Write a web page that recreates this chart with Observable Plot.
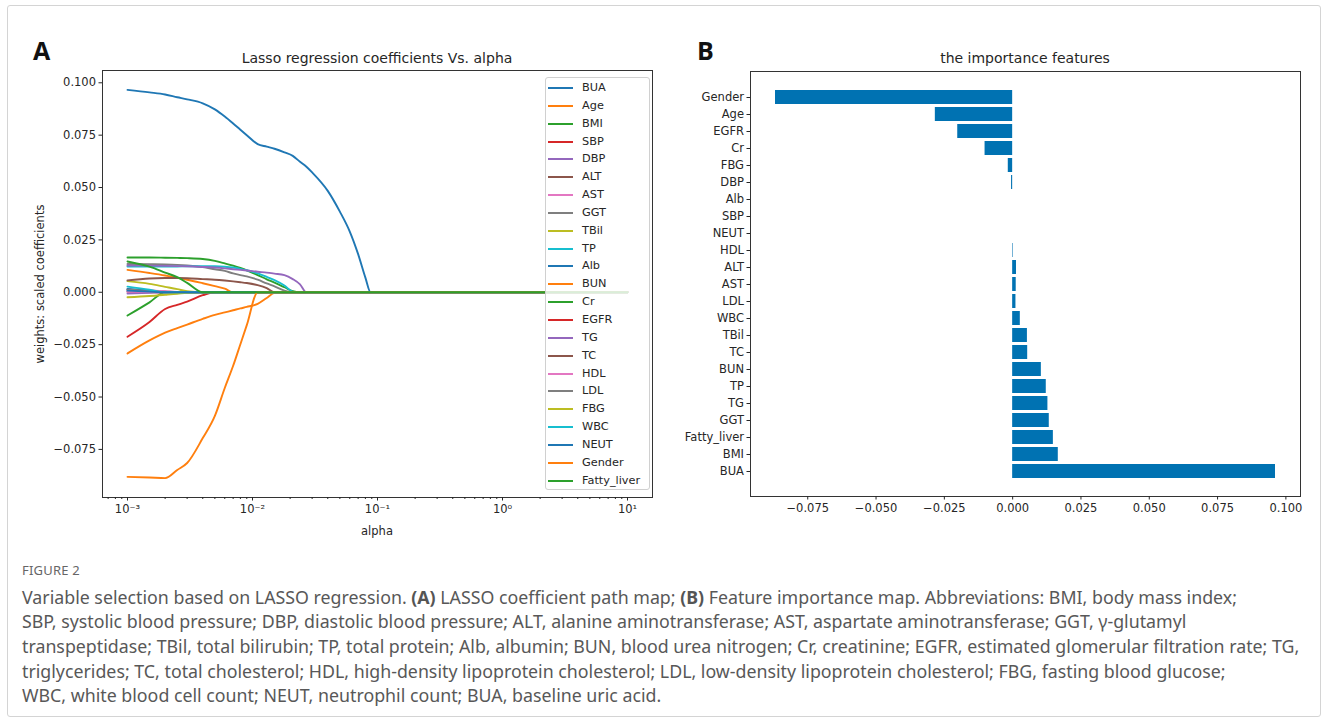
<!DOCTYPE html>
<html>
<head>
<meta charset="utf-8">
<script src="https://cdn.jsdelivr.net/npm/d3@7"></script>
<script src="https://cdn.jsdelivr.net/npm/@observablehq/plot@0.6"></script>
<style>
  body { margin: 0; background: #fff; }
  #page { position: relative; width: 1328px; height: 722px; overflow: hidden; font-family: "DejaVu Sans", sans-serif; color: #262626; }
  #border { position: absolute; left: 7px; top: 5px; width: 1312px; height: 710px; border: 1px solid #d4d4d4; border-radius: 3px; }
  .chart { position: absolute; top: 0; }
  .panel { position: absolute; top: 33px; font-family: "Open Sans", "Liberation Sans", sans-serif; font-weight: 700; font-size: 25px; color: #111; }
  .title { position: absolute; top: 50px; font-size: 14px; transform: translateX(-50%); white-space: nowrap; }
  .axlabel { position: absolute; font-size: 11.5px; white-space: nowrap; }
  #legend { position: absolute; left: 545px; top: 77px; width: 105px; height: 413px; box-sizing: border-box;
            border: 1px solid #d0d0d0; border-radius: 3px; background: rgba(255,255,255,0.82); padding-top: 1px; }
  .entry { position: relative; height: 17.85px; font-size: 11.3px; }
  .entry .sw { position: absolute; left: 2px; top: 8px; width: 25px; height: 2px; }
  .entry .lb { position: absolute; left: 36px; top: 1px; line-height: 15px; white-space: nowrap; }
  #caption { position: absolute; left: 22px; top: 562px; font-family: "Noto Sans", sans-serif; color: #585858; }
  #caption .fig { font-size: 13px; line-height: 16px; letter-spacing: 0.2px; margin-bottom: 6.6px; color: #666; }
  #caption .ln { font-size: 17.8px; line-height: 24.7px; white-space: nowrap; }
  #caption b { font-weight: 700; color: #555; }
</style>
</head>
<body>
<div id="page">
  <div id="border"></div>
  <div class="panel" style="left:33px">A</div>
  <div class="panel" style="left:697px">B</div>
  <div class="title" style="left:377px">Lasso regression coefficients Vs. alpha</div>
  <div class="title" style="left:1025px">the importance features</div>
  <div class="axlabel" style="left:377px; top:524px; transform:translateX(-50%)">alpha</div>
  <div class="axlabel" style="left:40px; top:284px; transform:translate(-50%,-50%) rotate(-90deg)">weights: scaled coefficients</div>
  <div id="legend"></div>
  <div id="caption">
    <div class="fig">FIGURE 2</div>
    <div class="ln">Variable selection based on LASSO regression. <b>(A)</b> LASSO coefficient path map; <b>(B)</b> Feature importance map. Abbreviations: BMI, body mass index;</div>
    <div class="ln">SBP, systolic blood pressure; DBP, diastolic blood pressure; ALT, alanine aminotransferase; AST, aspartate aminotransferase; GGT, γ-glutamyl</div>
    <div class="ln">transpeptidase; TBil, total bilirubin; TP, total protein; Alb, albumin; BUN, blood urea nitrogen; Cr, creatinine; EGFR, estimated glomerular filtration rate; TG,</div>
    <div class="ln">triglycerides; TC, total cholesterol; HDL, high-density lipoprotein cholesterol; LDL, low-density lipoprotein cholesterol; FBG, fasting blood glucose;</div>
    <div class="ln">WBC, white blood cell count; NEUT, neutrophil count; BUA, baseline uric acid.</div>
  </div>
</div>
<script>
// ---- Panel A: lasso coefficient paths (one value per alpha) ----
const alphas = [0.001, 0.0015, 0.002, 0.0025, 0.003, 0.004, 0.005, 0.006, 0.007, 0.008, 0.009, 0.011, 0.013,
                0.015, 0.018, 0.021, 0.024, 0.027, 0.03, 0.04, 0.05, 0.06, 0.07, 0.08, 0.088, 10];

const seriesNames = ["BUA", "Age", "BMI", "SBP", "DBP", "ALT", "AST", "GGT", "TBil", "TP", "Alb", "BUN",
                     "Cr", "EGFR", "TG", "TC", "HDL", "LDL", "FBG", "WBC", "NEUT", "Gender", "Fatty_liver"];

const coefBUA    = [0.0966, 0.0954, 0.0944, 0.0931, 0.0921, 0.0902, 0.0873, 0.0839, 0.0806, 0.0776, 0.0750, 0.0707, 0.0695, 0.0685, 0.0668, 0.0651, 0.0623, 0.0599, 0.0572, 0.0484, 0.0385, 0.0290, 0.0182, 0.0070, 0, 0];
const coefAge    = [-0.0292, -0.0230, -0.0193, -0.0171, -0.0154, -0.0127, -0.0108, -0.0096, -0.0086, -0.0077, -0.0070, -0.0055, -0.0027, -0.0003, 0, 0, 0, 0, 0, 0, 0, 0, 0, 0, 0, 0];
const coefBMI    = [0.0166, 0.0166, 0.0165, 0.0164, 0.0163, 0.0159, 0.0150, 0.0138, 0.0127, 0.0116, 0.0105, 0.0082, 0.0062, 0.0046, 0.0024, 0.0005, 0, 0, 0, 0, 0, 0, 0, 0, 0, 0];
const coefSBP    = [0.0003, 0, 0, 0, 0, 0, 0, 0, 0, 0, 0, 0, 0, 0, 0, 0, 0, 0, 0, 0, 0, 0, 0, 0, 0, 0];
const coefDBP    = [-0.0006, -0.0002, 0, 0, 0, 0, 0, 0, 0, 0, 0, 0, 0, 0, 0, 0, 0, 0, 0, 0, 0, 0, 0, 0, 0, 0];
const coefALT    = [0.0013, 0.0008, 0.0004, 0, 0, 0, 0, 0, 0, 0, 0, 0, 0, 0, 0, 0, 0, 0, 0, 0, 0, 0, 0, 0, 0, 0];
const coefAST    = [0.0013, 0.0009, 0.0005, 0.0002, 0, 0, 0, 0, 0, 0, 0, 0, 0, 0, 0, 0, 0, 0, 0, 0, 0, 0, 0, 0, 0, 0];
const coefGGT    = [0.0135, 0.0134, 0.0133, 0.0131, 0.0128, 0.0120, 0.0110, 0.0102, 0.0090, 0.0082, 0.0076, 0.0060, 0.0042, 0.0028, 0.0008, 0, 0, 0, 0, 0, 0, 0, 0, 0, 0, 0];
const coefTBil   = [0.0053, 0.0040, 0.0026, 0.0015, 0.0005, 0, 0, 0, 0, 0, 0, 0, 0, 0, 0, 0, 0, 0, 0, 0, 0, 0, 0, 0, 0, 0];
const coefTP     = [0.0123, 0.0123, 0.0123, 0.0123, 0.0124, 0.0124, 0.0124, 0.0122, 0.0118, 0.0112, 0.0105, 0.0090, 0.0073, 0.0058, 0.0032, 0.0003, 0, 0, 0, 0, 0, 0, 0, 0, 0, 0];
const coefAlb    = [0.0016, 0.0008, 0, 0, 0, 0, 0, 0, 0, 0, 0, 0, 0, 0, 0, 0, 0, 0, 0, 0, 0, 0, 0, 0, 0, 0];
const coefBUN    = [0.0107, 0.0092, 0.0080, 0.0069, 0.0060, 0.0043, 0.0029, 0.0017, 0, 0, 0, 0, 0, 0, 0, 0, 0, 0, 0, 0, 0, 0, 0, 0, 0, 0];
const coefCr     = [-0.0111, -0.0048, 0, 0, 0, 0, 0, 0, 0, 0, 0, 0, 0, 0, 0, 0, 0, 0, 0, 0, 0, 0, 0, 0, 0, 0];
const coefEGFR   = [-0.0212, -0.0142, -0.0080, -0.0060, -0.0045, -0.0014, 0, 0, 0, 0, 0, 0, 0, 0, 0, 0, 0, 0, 0, 0, 0, 0, 0, 0, 0, 0];
const coefTG     = [0.0128, 0.0127, 0.0126, 0.0125, 0.0124, 0.0121, 0.0118, 0.0114, 0.0110, 0.0107, 0.0104, 0.0098, 0.0094, 0.0089, 0.0082, 0.0063, 0.0038, 0, 0, 0, 0, 0, 0, 0, 0, 0];
const coefTC     = [0.0057, 0.0066, 0.0068, 0.0068, 0.0067, 0.0063, 0.0060, 0.0056, 0.0052, 0.0048, 0.0044, 0.0034, 0.0020, 0, 0, 0, 0, 0, 0, 0, 0, 0, 0, 0, 0, 0];
const coefHDL    = [0.0004, 0.0002, 0, 0, 0, 0, 0, 0, 0, 0, 0, 0, 0, 0, 0, 0, 0, 0, 0, 0, 0, 0, 0, 0, 0, 0];
const coefLDL    = [0.0012, 0.0006, 0, 0, 0, 0, 0, 0, 0, 0, 0, 0, 0, 0, 0, 0, 0, 0, 0, 0, 0, 0, 0, 0, 0, 0];
const coefFBG    = [-0.0024, -0.0018, -0.0012, -0.0007, -0.0002, 0, 0, 0, 0, 0, 0, 0, 0, 0, 0, 0, 0, 0, 0, 0, 0, 0, 0, 0, 0, 0];
const coefWBC    = [0.0027, 0.0012, 0, 0, 0, 0, 0, 0, 0, 0, 0, 0, 0, 0, 0, 0, 0, 0, 0, 0, 0, 0, 0, 0, 0, 0];
const coefNEUT   = [0.0008, 0.0003, 0, 0, 0, 0, 0, 0, 0, 0, 0, 0, 0, 0, 0, 0, 0, 0, 0, 0, 0, 0, 0, 0, 0, 0];
const coefGender = [-0.0881, -0.0884, -0.0887, -0.0848, -0.0815, -0.0696, -0.0590, -0.0457, -0.0351, -0.0248, -0.0157, 0, 0, 0, 0, 0, 0, 0, 0, 0, 0, 0, 0, 0, 0, 0];
const coefFatty  = [0.0147, 0.0122, 0.0094, 0.0072, 0.0045, 0, 0, 0, 0, 0, 0, 0, 0, 0, 0, 0, 0, 0, 0, 0, 0, 0, 0, 0, 0, 0];

const coefPaths = [coefBUA, coefAge, coefBMI, coefSBP, coefDBP, coefALT, coefAST, coefGGT, coefTBil, coefTP, coefAlb,
                   coefBUN, coefCr, coefEGFR, coefTG, coefTC, coefHDL, coefLDL, coefFBG, coefWBC, coefNEUT, coefGender, coefFatty];

const xMajorTicks = [0.001, 0.01, 0.1, 1, 10];
const yTicksA = [-0.075, -0.05, -0.025, 0, 0.025, 0.05, 0.075, 0.1];

// ---- Panel B: feature importance (top to bottom) ----
const featureNames = ["Gender", "Age", "EGFR", "Cr", "FBG", "DBP", "Alb", "SBP", "NEUT", "HDL", "ALT", "AST",
                      "LDL", "WBC", "TBil", "TC", "BUN", "TP", "TG", "GGT", "Fatty_liver", "BMI", "BUA"];
const importance = [-0.0868, -0.0283, -0.0201, -0.0101, -0.0016, -0.0004, 0, 0, 0, 0.0002, 0.0014, 0.0013,
                    0.0012, 0.0028, 0.0054, 0.0055, 0.0105, 0.0123, 0.0129, 0.0134, 0.0149, 0.0167, 0.0962];
const xTicksB = [-0.075, -0.05, -0.025, 0, 0.025, 0.05, 0.075, 0.1];

// matplotlib's default ten-colour cycle
const tab10 = ["#1f77b4", "#ff7f0e", "#2ca02c", "#d62728", "#9467bd", "#8c564b", "#e377c2", "#7f7f7f", "#bcbd22", "#17becf"];
const seriesColors = seriesNames.map((_, i) => tab10[i % tab10.length]);

const page = document.getElementById("page");
const fmt3 = d3.format(".3f");
const chartStyle = { fontSize: "11.5px", fontFamily: "DejaVu Sans, sans-serif", color: "#262626", background: "transparent", overflow: "visible" };

// long-format rows for the path lines
const pathRows = seriesNames.flatMap((name, i) => alphas.map((alpha, j) => ({ name, alpha, coef: coefPaths[i][j] })));

// log x domain padded by 5% of the decades spanned; y padded by 5% of the range
const [a0, a1] = d3.extent(alphas);
const logPad = Math.pow(10, 0.05 * Math.log10(a1 / a0));
const [c0, c1] = d3.extent(pathRows, d => d.coef);
const cPad = 0.05 * (c1 - c0);

const minorTicks = [];
for (let e = -4; e <= 1; e++) for (let k = 2; k <= 9; k++) {
  const v = k * Math.pow(10, e);
  if (v > a0 / logPad && v < a1 * logPad) minorTicks.push(v);
}
const sup = { "-": "⁻", "0": "⁰", "1": "¹", "2": "²", "3": "³", "4": "⁴" };
const pow10 = d => "10" + String(Math.round(Math.log10(d))).split("").map(c => sup[c]).join("");

const chartA = Plot.plot({
  width: 664, height: 545,
  marginTop: 70, marginBottom: 48, marginLeft: 102, marginRight: 12,
  style: chartStyle,
  x: { type: "log", domain: [a0 / logPad, a1 * logPad] },
  y: { domain: [c0 - cPad, c1 + cPad] },
  color: { domain: seriesNames, range: seriesColors },
  marks: [
    Plot.line(pathRows, { x: "alpha", y: "coef", z: "name", stroke: "name", strokeWidth: 1.9, curve: "monotone-x" }),
    Plot.frame({ stroke: "#333", strokeWidth: 1 }),
    Plot.axisX(xMajorTicks, { tickSize: 3.5, tickPadding: 4, tickFormat: pow10, label: null }),
    Plot.axisX(minorTicks, { tickSize: 2, tickFormat: () => "", label: null }),
    Plot.axisY(yTicksA, { tickSize: 3.5, tickPadding: 3, tickFormat: fmt3, label: null })
  ]
});
chartA.classList.add("chart");
chartA.style.left = "0px";
page.appendChild(chartA);

// ---- Panel B chart ----
const featureRows = featureNames.map((name, i) => ({ name, value: importance[i] }));
const [v0, v1] = d3.extent(importance);
const vPad = 0.05 * (v1 - v0);

const chartB = Plot.plot({
  width: 664, height: 545,
  marginTop: 71, marginBottom: 49, marginLeft: 86, marginRight: 28,
  style: chartStyle,
  x: { domain: [v0 - vPad, v1 + vPad] },
  y: { type: "band", domain: featureNames, paddingInner: 0.2, paddingOuter: 1.1, align: 0.5 },
  marks: [
    Plot.barX(featureRows, { x: "value", y: "name", fill: "#0072b2" }),
    Plot.frame({ stroke: "#333", strokeWidth: 1 }),
    Plot.axisX(xTicksB, { tickSize: 3.5, tickPadding: 4, tickFormat: fmt3, label: null }),
    Plot.axisY({ tickSize: 3.5, tickPadding: 3, label: null })
  ]
});
chartB.classList.add("chart");
chartB.style.left = "664px";
page.appendChild(chartB);

// ---- legend for panel A, drawn over the plot area ----
const legend = document.getElementById("legend");
page.appendChild(legend);
seriesNames.forEach((name, i) => {
  const row = document.createElement("div");
  row.className = "entry";
  row.innerHTML = `<div class="sw" style="background:${seriesColors[i]}"></div><div class="lb">${name}</div>`;
  legend.appendChild(row);
});
</script>
</body>
</html>
